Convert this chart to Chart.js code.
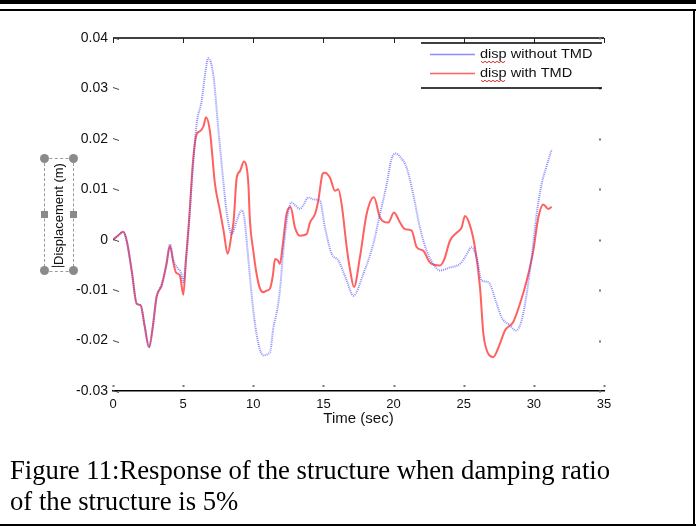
<!DOCTYPE html>
<html>
<head>
<meta charset="utf-8">
<script src="https://cdn.jsdelivr.net/npm/chart.js@4.4.0/dist/chart.umd.min.js"></script>
<style>
  body { margin: 0; background: #fff; }
  #page { position: relative; width: 696px; height: 526px; overflow: hidden; background: #fff; }
  #chart { position: absolute; left: 0; top: 0; }
  .rule { position: absolute; background: #000; }
  #ylabelBox {
    position: absolute; left: 44px; top: 158px; width: 28px; height: 112px;
    border: 1px dashed #9a9a9a;
  }
  #ylabel {
    position: absolute; left: 58px; top: 215px;
    transform: translate(-50%, -50%) rotate(-90deg);
    font: 13px "Liberation Sans", Arial, sans-serif; color: #111; white-space: nowrap;
  }
  #ylabel .caret { display: inline-block; width: 1px; height: 13px; background: #222; vertical-align: -2px; margin-right: 1px; }
  .handle { position: absolute; background: #8a8a8a; }
  .round { width: 9px; height: 9px; border-radius: 50%; }
  .square { width: 7px; height: 7px; }
  #caption {
    position: absolute; left: 10px; top: 455px;
    font: 26.7px "Liberation Serif", "Times New Roman", serif; line-height: 31px; color: #000;
  }
</style>
</head>
<body>
<div id="page">
  <canvas id="chart" width="696" height="526"></canvas>

  <!-- double rule at the top, frame on the right and bottom -->
  <div class="rule" style="left:0;top:0;width:696px;height:4px"></div>
  <div class="rule" style="left:0;top:9px;width:696px;height:2px"></div>
  <div class="rule" style="left:693px;top:9px;width:2px;height:517px"></div>
  <div class="rule" style="left:0;top:524px;width:696px;height:2px"></div>

  <div id="ylabelBox"></div>
  <div id="ylabel"><span class="caret"></span>Displacement (m)</div>
  <div class="handle round" style="left:40px;top:154px"></div>
  <div class="handle round" style="left:69px;top:154px"></div>
  <div class="handle round" style="left:40px;top:266px"></div>
  <div class="handle round" style="left:69px;top:266px"></div>
  <div class="handle square" style="left:41px;top:211px"></div>
  <div class="handle square" style="left:70px;top:211px"></div>

  <div id="caption">Figure 11:Response of the structure when damping ratio<br>of the structure is 5%</div>
</div>

<script>
// Time axis and displacement axis
const xTicks = [0, 5, 10, 15, 20, 25, 30, 35];
const yTicks = [-0.03, -0.02, -0.01, 0, 0.01, 0.02, 0.03, 0.04];
const yTickLabels = ['-0.03', '-0.02', '-0.01', '0', '0.01', '0.02', '0.03', '0.04'];

// Response without the tuned mass damper (sec, m)
const timeWithout = [0, 0.35, 0.73, 1.0, 1.35, 1.69, 1.97, 2.25, 2.57, 2.85, 3.1, 3.47, 3.8, 4.06, 4.3,
  4.65, 4.85, 5.01, 5.2, 5.37, 5.61, 5.96, 6.32, 6.56, 6.79, 7.15, 7.5, 7.86, 8.1, 8.46, 8.82, 9.17,
  9.35, 9.53, 9.75, 10.0, 10.36, 10.71, 11.19, 11.43, 11.7, 11.9, 12.14, 12.5, 12.73, 13.0, 13.33,
  13.6, 13.92, 14.28, 14.75, 15.11, 15.59, 16.06, 16.66, 17.13, 17.84, 18.55, 19.03, 19.51, 19.85,
  20.17, 20.5, 20.93, 21.4, 21.88, 22.36, 22.83, 23.31, 24.02, 24.73, 25.09, 25.57, 25.92, 26.28,
  26.75, 27.35, 27.7, 28.3, 28.72, 29.13, 29.49, 29.84, 30.2, 30.55, 30.91, 31.27];
const dispWithout = [0, 0.0008, 0.0016, -0.0005, -0.0065, -0.0127, -0.013, -0.017, -0.0213, -0.017,
  -0.0114, -0.0088, -0.005, -0.0009, -0.004, -0.0058, -0.0065, -0.0084, -0.004, 0.0011, 0.011, 0.0229,
  0.0275, 0.0327, 0.036, 0.0327, 0.0222, 0.0117, 0.0055, 0.0011, 0.0038, 0.0058, 0.0045, -0.0002,
  -0.007, -0.014, -0.0206, -0.0229, -0.0223, -0.0175, -0.014, -0.01, -0.0022, 0.0057, 0.0074, 0.0068,
  0.0061, 0.007, 0.0084, 0.008, 0.0077, 0.0024, -0.0028, -0.0041, -0.0081, -0.0111, -0.0068, -0.0009,
  0.0051, 0.011, 0.016, 0.0171, 0.0163, 0.0143, 0.009, 0.0024, -0.0022, -0.0048, -0.0061, -0.0055,
  -0.0048, -0.0035, -0.0015, -0.0035, -0.0081, -0.0084, -0.0127, -0.0154, -0.017, -0.018, -0.016,
  -0.0107, -0.0035, 0.0051, 0.011, 0.0146, 0.0179];

// Response with the tuned mass damper (sec, m)
const timeWith = [0, 0.35, 0.73, 1.0, 1.35, 1.69, 1.97, 2.25, 2.57, 2.85, 3.1, 3.47, 3.8, 4.06, 4.3,
  4.49, 4.77, 5.01, 5.2, 5.45, 5.7, 5.96, 6.2, 6.45, 6.63, 6.91, 7.27, 7.63, 7.9, 8.17, 8.45, 8.6,
  8.82, 9.05, 9.34, 9.53, 9.65, 9.76, 10.0, 10.25, 10.48, 10.71, 10.95, 11.19, 11.4, 11.55, 11.75,
  11.9, 12.1, 12.37, 12.66, 12.97, 13.33, 13.8, 14.04, 14.4, 14.63, 14.95, 15.11, 15.47, 15.82, 16.06,
  16.3, 16.66, 16.9, 17.18, 17.6, 18.08, 18.6, 19.03, 19.62, 20.03, 20.46, 20.81, 21.29, 21.65, 22.12,
  22.59, 23.3, 23.6, 24.02, 24.5, 24.85, 25.09, 25.45, 25.8, 26.16, 26.4, 26.75, 27.1, 27.58, 27.94,
  28.53, 29.01, 29.49, 29.96, 30.32, 30.67, 31.03, 31.27];
const dispWith = [0, 0.0008, 0.0016, -0.0005, -0.0065, -0.0127, -0.013, -0.017, -0.0213, -0.017,
  -0.0114, -0.0091, -0.005, -0.0012, -0.0045, -0.0065, -0.0071, -0.0109, -0.004, 0.005, 0.0155, 0.0209,
  0.0215, 0.0225, 0.0243, 0.0215, 0.011, 0.0057, 0.0015, -0.0028, 0.001, 0.0038, 0.0123, 0.0136,
  0.0155, 0.0143, 0.011, 0.0038, -0.0022, -0.007, -0.0097, -0.0104, -0.0101, -0.0097, -0.007, -0.0038,
  -0.0041, -0.0048, -0.001, 0.0051, 0.0065, 0.0024, 0.0008, 0.0011, 0.0034, 0.0051, 0.0077, 0.0131,
  0.0133, 0.0123, 0.0097, 0.01, 0.007, -0.0015, -0.006, -0.0094, -0.0035, 0.0051, 0.0084, 0.0044,
  0.0034, 0.0054, 0.0034, 0.0021, 0.0018, -0.0015, -0.0022, -0.0045, -0.0051, -0.004, -0.0002, 0.0014,
  0.0024, 0.0047, 0.0028, -0.0015, -0.0094, -0.0186, -0.0226, -0.0233, -0.0206, -0.018, -0.0163,
  -0.0127, -0.0081, -0.0022, 0.0044, 0.007, 0.0061, 0.0065];

const seriesNames = ['disp without TMD', 'disp with TMD'];
const blue = 'rgba(80, 80, 255, 0.65)';
const red = 'rgba(255, 35, 35, 0.72)';

function toPoints(ts, vs) {
  return ts.map((t, i) => ({ x: t, y: vs[i] }));
}

// Frame ticks (inward marks on all four sides) and the top rule
const frameTicks = {
  id: 'frameTicks',
  afterDraw(chart) {
    const { ctx, chartArea: a, scales } = chart;
    ctx.save();
    ctx.strokeStyle = '#000';
    ctx.lineWidth = 1.5;
    ctx.beginPath();
    ctx.moveTo(a.left, a.top);
    ctx.lineTo(a.right, a.top);
    ctx.stroke();

    ctx.lineWidth = 1;
    ctx.strokeStyle = '#222';
    xTicks.forEach(v => {
      const px = Math.round(scales.x.getPixelForValue(v)) + 0.5;
      ctx.beginPath();
      ctx.moveTo(px, a.top);
      ctx.lineTo(px, a.top + 5);
      ctx.stroke();
      ctx.fillStyle = '#777';
      ctx.fillRect(px - 1, a.bottom - 6, 2, 2);
    });
    yTicks.forEach(v => {
      const py = Math.round(scales.y.getPixelForValue(v)) + 0.5;
      ctx.strokeStyle = '#444';
      ctx.beginPath();
      ctx.moveTo(a.left, py - 1);
      ctx.lineTo(a.left + 3, py);
      ctx.lineTo(a.left + 6, py + 1);
      ctx.stroke();
      ctx.fillStyle = '#777';
      ctx.fillRect(a.right - 5, py - 1, 2, 2);
    });
    ctx.restore();
  }
};

// Legend: two rules, line samples and labels with a spell-check squiggle
const boxLegend = {
  id: 'boxLegend',
  afterDraw(chart) {
    const { ctx } = chart;
    const colors = [blue, red];
    const rows = [54.5, 73.5];
    ctx.save();
    ctx.strokeStyle = '#000';
    ctx.lineWidth = 1.5;
    ctx.beginPath();
    ctx.moveTo(421, 43); ctx.lineTo(602, 43);
    ctx.moveTo(421, 88); ctx.lineTo(602, 88);
    ctx.stroke();
    rows.forEach((y, i) => {
      ctx.strokeStyle = colors[i];
      ctx.lineWidth = 1.5;
      ctx.beginPath();
      ctx.moveTo(430, y); ctx.lineTo(475, y);
      ctx.stroke();

      ctx.save();
      ctx.translate(480, y);
      ctx.scale(1.12, 1);
      ctx.fillStyle = '#111';
      ctx.font = '13px "Liberation Sans", Arial, sans-serif';
      ctx.textBaseline = 'middle';
      ctx.fillText(seriesNames[i], 0, 0);
      ctx.restore();

      ctx.strokeStyle = '#d0302a';
      ctx.lineWidth = 1;
      ctx.beginPath();
      for (let k = 0; k <= 12; k++) {
        const sx = 481 + k * 2;
        const sy = y + 7 + (k % 2 ? 1.2 : -0.2);
        if (k === 0) ctx.moveTo(sx, sy); else ctx.lineTo(sx, sy);
      }
      ctx.stroke();
    });
    ctx.restore();
  }
};

new Chart(document.getElementById('chart'), {
  type: 'line',
  data: {
    datasets: [
      {
        label: seriesNames[0],
        data: toPoints(timeWithout, dispWithout),
        borderColor: blue,
        borderWidth: 2,
        borderDash: [1, 1],
        pointRadius: 0,
        cubicInterpolationMode: 'monotone'
      },
      {
        label: seriesNames[1],
        data: toPoints(timeWith, dispWith),
        borderColor: red,
        borderWidth: 2,
        pointRadius: 0,
        cubicInterpolationMode: 'monotone'
      }
    ]
  },
  options: {
    responsive: false,
    animation: false,
    events: [],
    layout: { padding: { left: 68, right: 92, top: 38, bottom: 90 } },
    plugins: { legend: { display: false }, tooltip: { enabled: false } },
    scales: {
      x: {
        type: 'linear',
        min: 0,
        max: 35,
        afterFit(scale) { scale.height = 45; },
        afterBuildTicks(scale) { scale.ticks = xTicks.map(v => ({ value: v })); },
        ticks: {
          color: '#111',
          padding: 6,
          font: { family: '"Liberation Sans", Arial, sans-serif', size: 13 },
          maxRotation: 0,
          callback: v => String(v)
        },
        grid: { display: false, drawTicks: false },
        border: { display: true, color: '#000', width: 1.5 },
        title: {
          display: true,
          text: 'Time (sec)',
          color: '#111',
          font: { family: '"Liberation Sans", Arial, sans-serif', size: 15 },
          padding: { top: 0, bottom: 8 }
        }
      },
      y: {
        min: -0.03,
        max: 0.04,
        afterFit(scale) { scale.width = 45; },
        afterBuildTicks(scale) { scale.ticks = yTicks.map(v => ({ value: v })); },
        ticks: {
          color: '#111',
          padding: 5,
          font: { family: '"Liberation Sans", Arial, sans-serif', size: 14 },
          callback: (v) => yTickLabels[yTicks.findIndex(t => Math.abs(t - v) < 1e-9)]
        },
        grid: { display: false, drawTicks: false },
        border: { display: false }
      }
    }
  },
  plugins: [frameTicks, boxLegend]
});
</script>
</body>
</html>
